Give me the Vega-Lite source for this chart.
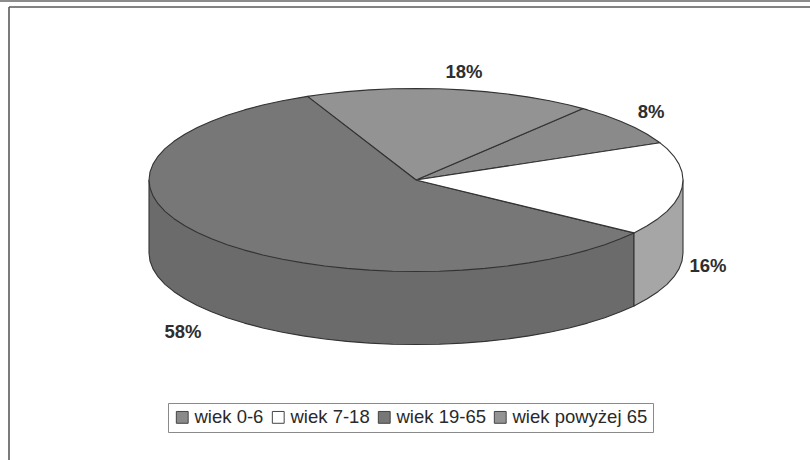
{
"$schema":"https://vega.github.io/schema/vega-lite/v6.json",
"width":801,"height":453,
"autosize":{"type":"none"},
"padding":{"left":9,"top":7,"right":0,"bottom":0},
"background":"#ffffff",
"view":{"stroke":null,"fill":"#ffffff"},
"datasets":{
"side":[
{"s":"wiek 19-65","i":0,"x":-267,"y":0},{"s":"wiek 19-65","i":1,"x":-267,"y":-73},{"s":"wiek 19-65","i":2,"x":-266,"y":-81},{"s":"wiek 19-65","i":3,"x":-263,"y":-88.9},{"s":"wiek 19-65","i":4,"x":-258,"y":-96.7},{"s":"wiek 19-65","i":5,"x":-251,"y":-104.3},{"s":"wiek 19-65","i":6,"x":-242,"y":-111.7},{"s":"wiek 19-65","i":7,"x":-231.2,"y":-118.8},{"s":"wiek 19-65","i":8,"x":-218.7,"y":-125.5},{"s":"wiek 19-65","i":9,"x":-204.5,"y":-131.8},{"s":"wiek 19-65","i":10,"x":-188.8,"y":-137.7},{"s":"wiek 19-65","i":11,"x":-171.6,"y":-143.1},{"s":"wiek 19-65","i":12,"x":-153.2,"y":-148},{"s":"wiek 19-65","i":13,"x":-133.5,"y":-152.2},{"s":"wiek 19-65","i":14,"x":-112.8,"y":-155.9},{"s":"wiek 19-65","i":15,"x":-91.3,"y":-159},{"s":"wiek 19-65","i":16,"x":-69.1,"y":-161.4},{"s":"wiek 19-65","i":17,"x":-46.4,"y":-163.1},{"s":"wiek 19-65","i":18,"x":-23.3,"y":-164.2},{"s":"wiek 19-65","i":19,"x":0,"y":-164.5},{"s":"wiek 19-65","i":20,"x":23.3,"y":-164.2},{"s":"wiek 19-65","i":21,"x":46.4,"y":-163.1},{"s":"wiek 19-65","i":22,"x":69.1,"y":-161.4},{"s":"wiek 19-65","i":23,"x":91.3,"y":-159},{"s":"wiek 19-65","i":24,"x":112.8,"y":-155.9},{"s":"wiek 19-65","i":25,"x":133.5,"y":-152.2},{"s":"wiek 19-65","i":26,"x":153.2,"y":-148},{"s":"wiek 19-65","i":27,"x":171.6,"y":-143.1},{"s":"wiek 19-65","i":28,"x":188.8,"y":-137.7},{"s":"wiek 19-65","i":29,"x":204.5,"y":-131.8},{"s":"wiek 19-65","i":30,"x":218,"y":-125.9},{"s":"wiek 19-65","i":31,"x":218,"y":-52.9},{"s":"wiek 19-65","i":32,"x":0,"y":0},{"s":"wiek 19-65","i":33,"x":-267,"y":0},
{"s":"wiek 7-18","i":0,"x":218,"y":-52.9},{"s":"wiek 7-18","i":1,"x":218,"y":-125.9},{"s":"wiek 7-18","i":2,"x":231.2,"y":-118.8},{"s":"wiek 7-18","i":3,"x":242,"y":-111.7},{"s":"wiek 7-18","i":4,"x":251,"y":-104.3},{"s":"wiek 7-18","i":5,"x":258,"y":-96.7},{"s":"wiek 7-18","i":6,"x":263,"y":-88.9},{"s":"wiek 7-18","i":7,"x":266,"y":-81},{"s":"wiek 7-18","i":8,"x":267,"y":-73},{"s":"wiek 7-18","i":9,"x":267,"y":0},{"s":"wiek 7-18","i":10,"x":0,"y":0},{"s":"wiek 7-18","i":11,"x":218,"y":-52.9}
],
"top":[
{"s":"wiek 0-6","i":0,"x":0,"y":0},{"s":"wiek 0-6","i":1,"x":244,"y":37.2},{"s":"wiek 0-6","i":2,"x":231.2,"y":45.8},{"s":"wiek 0-6","i":3,"x":218.7,"y":52.5},{"s":"wiek 0-6","i":4,"x":204.5,"y":58.8},{"s":"wiek 0-6","i":5,"x":188.8,"y":64.7},{"s":"wiek 0-6","i":6,"x":171.6,"y":70.1},{"s":"wiek 0-6","i":7,"x":167,"y":71.4},{"s":"wiek 0-6","i":8,"x":0,"y":0},
{"s":"wiek powyżej 65","i":0,"x":0,"y":0},{"s":"wiek powyżej 65","i":1,"x":167,"y":71.4},{"s":"wiek powyżej 65","i":2,"x":153.2,"y":75},{"s":"wiek powyżej 65","i":3,"x":133.5,"y":79.2},{"s":"wiek powyżej 65","i":4,"x":112.8,"y":82.9},{"s":"wiek powyżej 65","i":5,"x":91.3,"y":86},{"s":"wiek powyżej 65","i":6,"x":69.1,"y":88.4},{"s":"wiek powyżej 65","i":7,"x":46.4,"y":90.1},{"s":"wiek powyżej 65","i":8,"x":23.3,"y":91.2},{"s":"wiek powyżej 65","i":9,"x":0,"y":91.5},{"s":"wiek powyżej 65","i":10,"x":-23.3,"y":91.2},{"s":"wiek powyżej 65","i":11,"x":-46.4,"y":90.1},{"s":"wiek powyżej 65","i":12,"x":-69.1,"y":88.4},{"s":"wiek powyżej 65","i":13,"x":-91.3,"y":86},{"s":"wiek powyżej 65","i":14,"x":-108.6,"y":83.6},{"s":"wiek powyżej 65","i":15,"x":0,"y":0},
{"s":"wiek 19-65","i":0,"x":0,"y":0},{"s":"wiek 19-65","i":1,"x":-108.6,"y":83.6},{"s":"wiek 19-65","i":2,"x":-112.8,"y":82.9},{"s":"wiek 19-65","i":3,"x":-133.5,"y":79.2},{"s":"wiek 19-65","i":4,"x":-153.2,"y":75},{"s":"wiek 19-65","i":5,"x":-171.6,"y":70.1},{"s":"wiek 19-65","i":6,"x":-188.8,"y":64.7},{"s":"wiek 19-65","i":7,"x":-204.5,"y":58.8},{"s":"wiek 19-65","i":8,"x":-218.7,"y":52.5},{"s":"wiek 19-65","i":9,"x":-231.2,"y":45.8},{"s":"wiek 19-65","i":10,"x":-242,"y":38.7},{"s":"wiek 19-65","i":11,"x":-251,"y":31.3},{"s":"wiek 19-65","i":12,"x":-258,"y":23.7},{"s":"wiek 19-65","i":13,"x":-263,"y":15.9},{"s":"wiek 19-65","i":14,"x":-266,"y":8},{"s":"wiek 19-65","i":15,"x":-267,"y":0},{"s":"wiek 19-65","i":16,"x":-266,"y":-8},{"s":"wiek 19-65","i":17,"x":-263,"y":-15.9},{"s":"wiek 19-65","i":18,"x":-258,"y":-23.7},{"s":"wiek 19-65","i":19,"x":-251,"y":-31.3},{"s":"wiek 19-65","i":20,"x":-242,"y":-38.7},{"s":"wiek 19-65","i":21,"x":-231.2,"y":-45.8},{"s":"wiek 19-65","i":22,"x":-218.7,"y":-52.5},{"s":"wiek 19-65","i":23,"x":-204.5,"y":-58.8},{"s":"wiek 19-65","i":24,"x":-188.8,"y":-64.7},{"s":"wiek 19-65","i":25,"x":-171.6,"y":-70.1},{"s":"wiek 19-65","i":26,"x":-153.2,"y":-75},{"s":"wiek 19-65","i":27,"x":-133.5,"y":-79.2},{"s":"wiek 19-65","i":28,"x":-112.8,"y":-82.9},{"s":"wiek 19-65","i":29,"x":-91.3,"y":-86},{"s":"wiek 19-65","i":30,"x":-69.1,"y":-88.4},{"s":"wiek 19-65","i":31,"x":-46.4,"y":-90.1},{"s":"wiek 19-65","i":32,"x":-23.3,"y":-91.2},{"s":"wiek 19-65","i":33,"x":0,"y":-91.5},{"s":"wiek 19-65","i":34,"x":23.3,"y":-91.2},{"s":"wiek 19-65","i":35,"x":46.4,"y":-90.1},{"s":"wiek 19-65","i":36,"x":69.1,"y":-88.4},{"s":"wiek 19-65","i":37,"x":91.3,"y":-86},{"s":"wiek 19-65","i":38,"x":112.8,"y":-82.9},{"s":"wiek 19-65","i":39,"x":133.5,"y":-79.2},{"s":"wiek 19-65","i":40,"x":153.2,"y":-75},{"s":"wiek 19-65","i":41,"x":171.6,"y":-70.1},{"s":"wiek 19-65","i":42,"x":188.8,"y":-64.7},{"s":"wiek 19-65","i":43,"x":204.5,"y":-58.8},{"s":"wiek 19-65","i":44,"x":218,"y":-52.9},{"s":"wiek 19-65","i":45,"x":0,"y":0},
{"s":"wiek 7-18","i":0,"x":0,"y":0},{"s":"wiek 7-18","i":1,"x":218,"y":-52.9},{"s":"wiek 7-18","i":2,"x":231.2,"y":-45.8},{"s":"wiek 7-18","i":3,"x":242,"y":-38.7},{"s":"wiek 7-18","i":4,"x":251,"y":-31.3},{"s":"wiek 7-18","i":5,"x":258,"y":-23.7},{"s":"wiek 7-18","i":6,"x":263,"y":-15.9},{"s":"wiek 7-18","i":7,"x":266,"y":-8},{"s":"wiek 7-18","i":8,"x":267,"y":0},{"s":"wiek 7-18","i":9,"x":266,"y":8},{"s":"wiek 7-18","i":10,"x":263,"y":15.9},{"s":"wiek 7-18","i":11,"x":258,"y":23.7},{"s":"wiek 7-18","i":12,"x":251,"y":31.3},{"s":"wiek 7-18","i":13,"x":244,"y":37.2},{"s":"wiek 7-18","i":14,"x":0,"y":0}
],
"labels":[
{"t":"18%","x":48,"y":108},
{"t":"8%","x":235,"y":68},
{"t":"16%","x":292,"y":-86},
{"t":"58%","x":-233,"y":-152}
],
"frame":[
{"x":-407,"x2":394,"y":173,"y2":173},
{"x":-407,"x2":-407,"y":173,"y2":-280}
],
"edge":[
{"x":-416,"x2":394,"y":179,"y2":179}
]
},
"layer":[
{"data":{"name":"frame"},
 "mark":{"type":"rule","stroke":"#5a5a5a","strokeWidth":1.6},
 "encoding":{
  "x":{"field":"x","type":"quantitative","scale":{"domain":[-407,394],"nice":false,"zero":false},"axis":null},
  "x2":{"field":"x2"},
  "y":{"field":"y","type":"quantitative","scale":{"domain":[-280,173],"nice":false,"zero":false},"axis":null},
  "y2":{"field":"y2"}
 }},
{"data":{"name":"edge"},
 "mark":{"type":"rule","stroke":"#8c8c8c","strokeWidth":2,"clip":false},
 "encoding":{
  "x":{"field":"x","type":"quantitative","scale":{"domain":[-407,394],"nice":false,"zero":false},"axis":null},
  "x2":{"field":"x2"},
  "y":{"field":"y","type":"quantitative","scale":{"domain":[-280,173],"nice":false,"zero":false},"axis":null},
  "y2":{"field":"y2"}
 }},
{"data":{"name":"side"},
 "mark":{"type":"line","stroke":"#333333","strokeWidth":1.1,"strokeJoin":"round"},
 "encoding":{
  "x":{"field":"x","type":"quantitative","scale":{"domain":[-407,394],"nice":false,"zero":false},"axis":null},
  "y":{"field":"y","type":"quantitative","scale":{"domain":[-280,173],"nice":false,"zero":false},"axis":null},
  "order":{"field":"i","type":"ordinal"},
  "fill":{"field":"s","type":"nominal","legend":null,"scale":{"domain":["wiek 19-65","wiek 7-18"],"range":["#6b6b6b","#a6a6a6"]}}
 }},
{"data":{"name":"top"},
 "mark":{"type":"line","stroke":"#333333","strokeWidth":1.1,"strokeJoin":"round"},
 "encoding":{
  "x":{"field":"x","type":"quantitative","scale":{"domain":[-407,394],"nice":false,"zero":false},"axis":null},
  "y":{"field":"y","type":"quantitative","scale":{"domain":[-280,173],"nice":false,"zero":false},"axis":null},
  "order":{"field":"i","type":"ordinal"},
  "fill":{"field":"s","type":"nominal","title":null,
   "scale":{"domain":["wiek 0-6","wiek 7-18","wiek 19-65","wiek powyżej 65"],"range":["#8a8a8a","#ffffff","#777777","#939393"]},
   "legend":{"orient":"none","legendX":159,"legendY":396,"direction":"horizontal","columns":4,"symbolType":"square","symbolSize":140,"symbolStrokeColor":"#444444","symbolStrokeWidth":1,"labelFont":"Liberation Sans","labelFontSize":18.5,"labelColor":"#2a2a2a","labelOffset":3,"columnPadding":5,"padding":5,"strokeColor":"#8a8a8a","fillColor":"#ffffff","labelLimit":300}}
 }},
{"data":{"name":"labels"},
 "mark":{"type":"text","font":"Liberation Sans","fontSize":18.5,"fontWeight":"bold","color":"#2e2e2e","align":"center","baseline":"middle"},
 "encoding":{
  "x":{"field":"x","type":"quantitative","scale":{"domain":[-407,394],"nice":false,"zero":false},"axis":null},
  "y":{"field":"y","type":"quantitative","scale":{"domain":[-280,173],"nice":false,"zero":false},"axis":null},
  "text":{"field":"t","type":"nominal"}
 }}
],
"resolve":{"scale":{"fill":"independent"}}
}
